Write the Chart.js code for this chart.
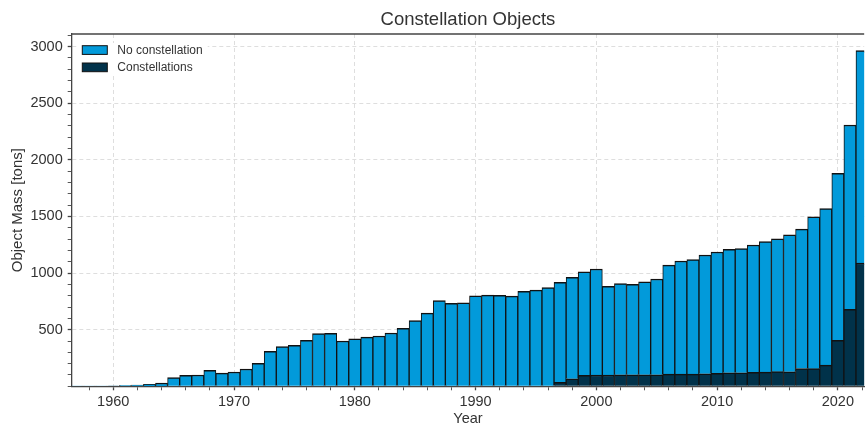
<!DOCTYPE html>
<html>
<head>
<meta charset="utf-8">
<title>Constellation Objects</title>
<script src="https://cdn.jsdelivr.net/npm/chart.js@4/dist/chart.umd.min.js"></script>
<style>
	html, body { margin: 0; padding: 0; background: #fff; overflow: hidden; }
	canvas { display: block; }
</style>
</head>
<body>
<canvas id="mass" width="865" height="426"></canvas>
<script>
// data (tons per launch year)
var years = [1957, 1958, 1959, 1960, 1961, 1962, 1963, 1964, 1965, 1966,
	1967, 1968, 1969, 1970, 1971, 1972, 1973, 1974, 1975, 1976,
	1977, 1978, 1979, 1980, 1981, 1982, 1983, 1984, 1985, 1986,
	1987, 1988, 1989, 1990, 1991, 1992, 1993, 1994, 1995, 1996,
	1997, 1998, 1999, 2000, 2001, 2002, 2003, 2004, 2005, 2006,
	2007, 2008, 2009, 2010, 2011, 2012, 2013, 2014, 2015, 2016,
	2017, 2018, 2019, 2020, 2021, 2022];
var noConstellation = [1, 2, 3, 5, 7, 11, 17, 28, 77, 97,
	100, 141, 117, 126, 153, 203, 309, 350, 362, 406,
	465, 467, 400, 420, 435, 444, 471, 512, 580, 647,
	758, 733, 737, 800, 806, 804, 797, 840, 850, 873,
	883, 896, 915, 936, 783, 805, 799, 820, 846, 964,
	999, 1012, 1050, 1072, 1091, 1097, 1125, 1154, 1173, 1211,
	1232, 1342, 1382, 1477, 1628, 1876];
var constellations = [0, 0, 0, 0, 0, 0, 0, 0, 0, 0,
	0, 0, 0, 0, 0, 0, 0, 0, 0, 0,
	0, 0, 0, 0, 0, 0, 0, 0, 0, 0,
	0, 0, 0, 0, 0, 0, 0, 0, 0, 0,
	35, 67, 97, 100, 100, 102, 102, 102, 102, 107,
	108, 108, 110, 114, 119, 119, 123, 125, 129, 128,
	157, 156, 187, 405, 680, 1089];
var xTickLabels = [1960, 1970, 1980, 1990, 2000, 2010, 2020];
var yTickLabels = [500, 1000, 1500, 2000, 2500, 3000];

var FONT = '"Liberation Sans", Arial, sans-serif';
Chart.defaults.font.family = FONT;
Chart.defaults.color = '#333';

function points(values) {
	var out = [];
	for (var i = 0; i < years.length; i++) {
		out.push({ x: years[i], y: values[i] });
	}
	return out;
}

// title centred over the plot, top spine, legend inside the plot
var frameAndLegend = {
	id: 'frameAndLegend',
	afterLayout: function (chart) {
		if (chart.titleBlock) {
			chart.titleBlock.left = chart.chartArea.left;
			chart.titleBlock.right = chart.chartArea.right;
		}
	},
	afterDraw: function (chart) {
		var ctx = chart.ctx;
		var a = chart.chartArea;
		ctx.save();
		ctx.strokeStyle = '#444';
		ctx.lineWidth = 1.3;
		ctx.beginPath();
		ctx.moveTo(a.left, a.top);
		ctx.lineTo(a.right, a.top);
		ctx.stroke();

		ctx.fillStyle = '#fff';
		ctx.fillRect(a.left + 5, a.top + 9, 131, 33);
		var items = [chart.data.datasets[1], chart.data.datasets[0]];
		ctx.font = '12px ' + FONT;
		ctx.textBaseline = 'middle';
		for (var i = 0; i < items.length; i++) {
			var x = a.left + 10.6;
			var y = a.top + 11.7 + i * 17.3;
			ctx.fillStyle = items[i].backgroundColor;
			ctx.fillRect(x, y, 25, 8.7);
			ctx.strokeStyle = '#111';
			ctx.lineWidth = 1;
			ctx.strokeRect(x, y, 25, 8.7);
			ctx.fillStyle = '#333';
			ctx.fillText(items[i].label, x + 35, y + 4.6);
		}
		ctx.restore();
	}
};

var ctx = document.getElementById('mass').getContext('2d');
window.MassChart = new Chart(ctx, {
	type: 'bar',
	data: {
		datasets: [{
			label: 'Constellations',
			data: points(constellations),
			backgroundColor: '#01324A',
			borderColor: '#111',
			borderWidth: { top: 1.5, left: 1, right: 1, bottom: 0 },
			categoryPercentage: 1,
			barPercentage: 1
		}, {
			label: 'No constellation',
			data: points(noConstellation),
			backgroundColor: '#029ADA',
			borderColor: '#111',
			borderWidth: { top: 1.5, left: 1, right: 1, bottom: 0 },
			categoryPercentage: 1,
			barPercentage: 1
		}]
	},
	options: {
		responsive: false,
		devicePixelRatio: 1,
		animation: false,
		layout: { padding: 0 },
		plugins: {
			legend: { display: false },
			tooltip: { enabled: false },
			title: {
				display: true,
				text: 'Constellation Objects',
				color: '#333',
				font: { size: 18.5, weight: 'normal' },
				padding: { top: 8.5, bottom: 3.3 }
			}
		},
		scales: {
			x: {
				type: 'linear',
				stacked: true,
				min: 1956.56,
				max: 2022.18,
				offset: false,
				afterFit: function (s) { s.height = 39.7; },
				ticks: {
					stepSize: 2,
					autoSkip: false,
					maxRotation: 0,
					includeBounds: false,
					padding: 3,
					color: '#333',
					font: { size: 14.5 },
					callback: function (v) { return xTickLabels.indexOf(v) >= 0 ? String(v) : ''; }
				},
				grid: {
					offset: false,
					color: function (c) { return c.tick && xTickLabels.indexOf(c.tick.value) >= 0 ? '#dedede' : 'rgba(0,0,0,0)'; },
					tickColor: '#444',
					tickLength: 4,
					tickWidth: function (c) { return c.tick && xTickLabels.indexOf(c.tick.value) >= 0 ? 1.3 : 0.9; }
				},
				border: { color: '#444', width: 1.3, dash: [4, 3] },
				title: {
					display: true,
					text: 'Year',
					color: '#333',
					font: { size: 14.5 },
					padding: { top: 0, bottom: -2 }
				}
			},
			y: {
				stacked: true,
				min: 0,
				max: 3112,
				afterFit: function (s) { s.width = 71.7; },
				ticks: {
					stepSize: 100,
					autoSkip: false,
					includeBounds: false,
					padding: 5,
					color: '#333',
					font: { size: 14.5 },
					callback: function (v) { return yTickLabels.indexOf(v) >= 0 ? String(v) : ''; }
				},
				grid: {
					color: function (c) { return c.tick && yTickLabels.indexOf(c.tick.value) >= 0 ? '#dedede' : 'rgba(0,0,0,0)'; },
					tickColor: '#444',
					tickLength: 4,
					tickWidth: function (c) { return c.tick && yTickLabels.indexOf(c.tick.value) >= 0 ? 1.3 : 0.9; }
				},
				border: { color: '#444', width: 1.3, dash: [4, 3] },
				title: {
					display: true,
					text: 'Object Mass [tons]',
					color: '#333',
					font: { size: 15 },
					padding: { top: 9.3, bottom: 0 }
				}
			}
		}
	},
	plugins: [frameAndLegend]
});
</script>
</body>
</html>
